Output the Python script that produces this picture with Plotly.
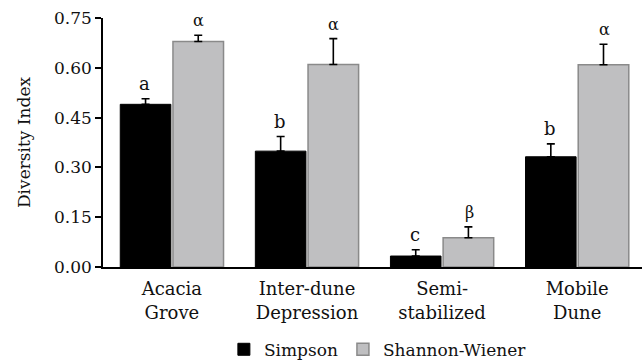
import plotly.graph_objects as go

categories = ["Acacia<br>Grove", "Inter-dune<br>Depression", "Semi-<br>stabilized", "Mobile<br>Dune"]
simpson = [0.490, 0.349, 0.033, 0.332]
simpson_err = [0.017, 0.044, 0.019, 0.039]
shannon = [0.679, 0.610, 0.088, 0.609]
shannon_err = [0.019, 0.078, 0.033, 0.062]
simpson_letters = ["a", "b", "c", "b"]
shannon_letters = ["α", "α", "β", "α"]
y_ticks = [0.0, 0.15, 0.30, 0.45, 0.60, 0.75]

FONT = "'DejaVu Serif', 'Liberation Serif', serif"
fig = go.Figure()
fig.add_trace(go.Bar(
    name="Simpson", x=categories, y=simpson,
    marker=dict(color="#000000", line=dict(color="#000000", width=1)),
    error_y=dict(type="data", array=simpson_err, arrayminus=[0]*4, symmetric=False,
                 color="#000000", thickness=1.6, width=4),
))
fig.add_trace(go.Bar(
    name="Shannon-Wiener", x=categories, y=shannon,
    marker=dict(color="#bfbfc1", line=dict(color="#8a8a8a", width=1.5)),
    error_y=dict(type="data", array=shannon_err, arrayminus=[0]*4, symmetric=False,
                 color="#000000", thickness=1.6, width=4),
))

for i, c in enumerate(categories):
    fig.add_annotation(x=c, y=simpson[i] + simpson_err[i], text=simpson_letters[i],
                       xshift=-27, yshift=3, yanchor="bottom", showarrow=False,
                       font=dict(family=FONT, size=18, color="#111"))
    fig.add_annotation(x=c, y=shannon[i] + shannon_err[i], text=shannon_letters[i],
                       xshift=27, yshift=3, yanchor="bottom", showarrow=False,
                       font=dict(family=FONT, size=16, color="#111"))

fig.update_layout(
    width=642, height=364,
    margin=dict(l=103, r=0, t=18, b=97, autoexpand=False),
    paper_bgcolor="white", plot_bgcolor="white",
    font=dict(family=FONT, size=17, color="#111"),
    barmode="group", bargap=0.22, bargroupgap=0.04,
    showlegend=True,
    legend=dict(orientation="h", x=0.51, xanchor="center", y=-0.26, yanchor="top",
                font=dict(family=FONT, size=17), itemwidth=30, tracegroupgap=0,
                bgcolor="rgba(0,0,0,0)"),
)
fig.update_xaxes(range=[-0.51, 3.48], showline=True, linecolor="#000", linewidth=1.5,
                 ticks="", showgrid=False, tickfont=dict(family=FONT, size=18),
                 ticklabelstandoff=5)
fig.update_yaxes(range=[0, 0.75], tickvals=y_ticks, ticktext=[f"{v:.2f}" for v in y_ticks],
                 showline=True, linecolor="#000", linewidth=1.5, ticks="outside",
                 ticklen=6, tickwidth=1.5, tickcolor="#000", showgrid=False, zeroline=False,
                 tickfont=dict(family=FONT, size=17),
                 title=dict(text="Diversity Index", font=dict(family=FONT, size=17), standoff=19))
fig.write_html("out.html", config={"displayModeBar": False},
               post_script="document.body.style.margin='0';document.body.style.padding='0';")
